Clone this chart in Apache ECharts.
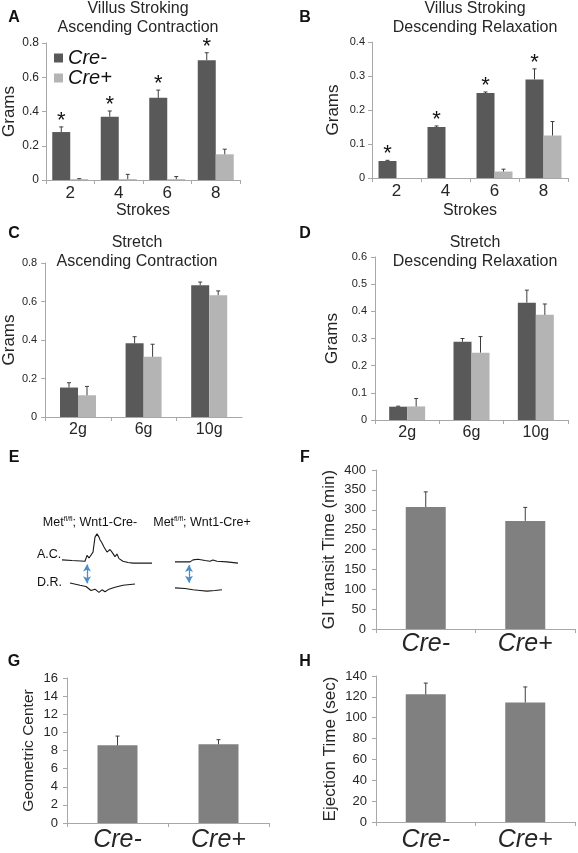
<!DOCTYPE html>
<html><head><meta charset="utf-8">
<style>html,body{margin:0;padding:0;background:#fff}#c{width:578px;height:853px}</style>
<script src="https://cdn.jsdelivr.net/npm/echarts@6.0.0/dist/echarts.min.js"></script>
</head><body><div id="c"></div>
<script>
// ---------- DATA ----------
const strokes = ['2', '4', '6', '8'];
const aMinus = [0.28, 0.37, 0.48, 0.70];
const aMinusErr = [0.03, 0.033, 0.045, 0.043];
const aPlus = [0.005, 0.005, 0.005, 0.15];
const aPlusErr = [0.003, 0.028, 0.015, 0.03];
const aStars = [1, 1, 1, 1];

const bMinus = [0.05, 0.15, 0.25, 0.29];
const bMinusErr = [0.002, 0.003, 0.003, 0.031];
const bPlus = [0, 0, 0.019, 0.125];
const bPlusErr = [0, 0, 0.007, 0.041];
const bStars = [1, 1, 1, 1];

const weights = ['2g', '6g', '10g'];
const cMinus = [0.153, 0.383, 0.685];
const cMinusErr = [0.025, 0.034, 0.016];
const cPlus = [0.113, 0.313, 0.633];
const cPlusErr = [0.046, 0.065, 0.022];

const dMinus = [0.049, 0.288, 0.432];
const dMinusErr = [0.002, 0.012, 0.046];
const dPlus = [0.05, 0.248, 0.387];
const dPlusErr = [0.029, 0.059, 0.04];

const genotypes = ['Cre-', 'Cre+'];
const fTransit = [307, 272];
const fTransitErr = [38, 34];
const gCenter = [8.57, 8.68];
const gCenterErr = [1.02, 0.51];
const hEject = [122.4, 114.7];
const hEjectErr = [10.8, 14.8];

// E: representative traces (time units, amplitude units)
const acMinusTrace = [[0,0.4],[10,0.3],[23,0.2],[25,1.1],[27,0.7],[29,1.0],[31,1.6],[33,3.9],[35,4.4],[37,3.9],[38,3.5],[40,3.0],[42,2.4],[44,2.1],[45,1.6],[47,1.9],[48,2.0],[50,1.6],[51,1.5],[52,1.9],[53,0.9],[55,1.3],[56,1.0],[57,0.6],[61,0.2],[66,0.0],[71,-0.1],[80,-0.1],[90,-0.1]];
const drMinusTrace = [[8,-3.15],[18,-3.5],[24,-3.7],[26,-3.9],[29,-4.3],[31,-4.5],[33,-4.1],[35,-4.2],[37,-4.6],[38,-4.7],[40,-4.2],[41,-4.1],[43,-4.5],[45,-4.5],[47,-4.1],[48,-3.9],[53,-3.8],[61,-3.5],[73,-3.3]];
const acPlusTrace = [[0,0.1],[15,0.1],[18,0.4],[20,0.7],[23,0.5],[25,0.4],[30,0.3],[35,0.2],[38,0.4],[42,0.2],[52,0.1],[63,-0.1]];
const drPlusTrace = [[0,-3.9],[10,-4.0],[18,-4.2],[25,-4.3],[32,-4.4],[40,-4.3],[47,-4.2]];
const arrowMinus = [25, -0.3, -3.2];
const arrowPlus = [14, -0.4, -3.1];

// ---------- STYLE ----------
const SANS = '"Liberation Sans", Arial, sans-serif';
const NARROW = '"Liberation Sans Narrow", "Liberation Sans", Arial, sans-serif';
const AXIS = '#a8a8a8';
const DARK = '#595959', LIGHT = '#b4b4b4', MID = '#808080', ERR = '#3c3c3c';
const TXT = '#262626';

const grids = [], xAxes = [], yAxes = [], series = [];

function makeErr(offset, withStars) {
  return function (params, api) {
    const i = api.value(0), v = api.value(1), top = api.value(2), star = api.value(3);
    const p0 = api.coord([i, v]);
    const p1 = api.coord([i, top]);
    const x = p0[0] + offset;
    const children = [];
    if (top > v) {
      children.push({type: 'line', shape: {x1: x, y1: p0[1], x2: x, y2: p1[1]}, style: {stroke: ERR, lineWidth: 1}});
      children.push({type: 'line', shape: {x1: x - 2, y1: p1[1], x2: x + 2, y2: p1[1]}, style: {stroke: ERR, lineWidth: 1}});
    }
    if (withStars && star) {
      children.push({type: 'text', x: x, y: p1[1] - 17, style: {text: '*', fontSize: 22, fontFamily: SANS, fill: '#111', align: 'center', verticalAlign: 'top'}});
    }
    return {type: 'group', children: children};
  };
}

function panel(cfg) {
  const gi = grids.length;
  grids.push({left: cfg.left, top: cfg.top, width: cfg.width, height: cfg.height});
  xAxes.push({
    type: 'category', gridIndex: gi, data: cfg.cats,
    axisLine: {lineStyle: {color: AXIS}},
    axisTick: {show: true, length: 4, lineStyle: {color: AXIS}},
    axisLabel: {color: TXT, fontSize: cfg.xFont, fontFamily: cfg.xFamily || SANS, fontStyle: cfg.xItalic ? 'italic' : 'normal', margin: cfg.xMargin},
    name: cfg.xName || '', nameLocation: 'middle', nameGap: cfg.xNameGap || 20,
    nameTextStyle: {color: TXT, fontSize: 16, fontFamily: SANS}
  });
  yAxes.push({
    type: 'value', gridIndex: gi, min: 0, max: cfg.max, interval: cfg.interval,
    splitLine: {show: false},
    axisLine: {show: true, lineStyle: {color: AXIS}},
    axisTick: {show: true, length: 4, lineStyle: {color: AXIS}},
    axisLabel: {color: TXT, fontSize: cfg.yFont, fontFamily: cfg.yFamily || SANS, margin: cfg.yMargin},
    name: cfg.yName, nameLocation: 'middle', nameRotate: 90, nameGap: cfg.yNameGap,
    nameTextStyle: {color: TXT, fontSize: cfg.yNameFont, fontFamily: cfg.yNameFamily || SANS}
  });
  const n = cfg.groups.length;
  cfg.groups.forEach(function (g) {
    series.push({type: 'bar', name: g.name, xAxisIndex: gi, yAxisIndex: gi, data: g.values,
      barWidth: cfg.barWidth, barGap: '0%', itemStyle: {color: g.color}, silent: true, animation: false});
  });
  cfg.groups.forEach(function (g, k) {
    const offset = (k - (n - 1) / 2) * cfg.barWidth;
    series.push({type: 'custom', xAxisIndex: gi, yAxisIndex: gi, silent: true, z: 5, animation: false,
      renderItem: makeErr(offset, !!g.stars),
      encode: {x: 0, y: [1, 2]},
      data: g.values.map(function (v, i) { return [i, v, v + g.errs[i], g.stars ? g.stars[i] : 0]; })});
  });
}

// A
panel({left: 44, top: 43, width: 196, height: 137, cats: strokes, max: 0.8, interval: 0.2,
  xFont: 17, xMargin: 5, xName: 'Strokes', xNameGap: 23, yFont: 12, yMargin: 7,
  yName: 'Grams', yNameGap: 28, yNameFont: 17, barWidth: 18,
  groups: [{name: 'Cre-', values: aMinus, errs: aMinusErr, color: DARK, stars: aStars},
           {name: 'Cre+', values: aPlus, errs: aPlusErr, color: LIGHT}]});
// B
panel({left: 372, top: 42, width: 196, height: 136, cats: strokes, max: 0.4, interval: 0.1,
  xFont: 17, xMargin: 5, xName: 'Strokes', xNameGap: 25, yFont: 11, yMargin: 7,
  yName: 'Grams', yNameGap: 30, yNameFont: 17, barWidth: 18,
  groups: [{name: 'Cre-', values: bMinus, errs: bMinusErr, color: DARK, stars: bStars},
           {name: 'Cre+', values: bPlus, errs: bPlusErr, color: LIGHT}]});
// C
panel({left: 44, top: 263, width: 198, height: 154, cats: weights, max: 0.8, interval: 0.2,
  xFont: 16, xMargin: 5, yFont: 11, yFamily: NARROW, yMargin: 8,
  yName: 'Grams', yNameGap: 27, yNameFont: 17, barWidth: 18,
  groups: [{name: 'Cre-', values: cMinus, errs: cMinusErr, color: DARK},
           {name: 'Cre+', values: cPlus, errs: cPlusErr, color: LIGHT}]});
// D
panel({left: 375, top: 257, width: 193, height: 163, cats: weights, max: 0.6, interval: 0.1,
  xFont: 16, xMargin: 5, yFont: 11, yFamily: NARROW, yMargin: 8,
  yName: 'Grams', yNameGap: 34, yNameFont: 17, barWidth: 18,
  groups: [{name: 'Cre-', values: dMinus, errs: dMinusErr, color: DARK},
           {name: 'Cre+', values: dPlus, errs: dPlusErr, color: LIGHT}]});
// F
panel({left: 376, top: 470, width: 199, height: 159, cats: genotypes, max: 400, interval: 50,
  xFont: 25, xItalic: true, xFamily: NARROW, xMargin: 3, yFont: 13, yMargin: 10,
  yName: 'GI Transit Time (min)', yNameGap: 38, yNameFont: 17, barWidth: 40,
  groups: [{name: 'Transit', values: fTransit, errs: fTransitErr, color: MID}]});
// G
panel({left: 67, top: 678, width: 202, height: 148, cats: genotypes, max: 16, interval: 2,
  xFont: 25, xItalic: true, xFamily: NARROW, xMargin: 5, yFont: 13, yMargin: 9,
  yName: 'Geometric Center', yNameGap: 30, yNameFont: 15.5, barWidth: 40,
  groups: [{name: 'Center', values: gCenter, errs: gCenterErr, color: MID}]});
// H
panel({left: 376, top: 676, width: 199, height: 151, cats: genotypes, max: 140, interval: 20,
  xFont: 25, xItalic: true, xFamily: NARROW, xMargin: 6, yFont: 13, yMargin: 9,
  yName: 'Ejection Time (sec)', yNameGap: 37, yNameFont: 17, barWidth: 40,
  groups: [{name: 'Ejection', values: hEject, errs: hEjectErr, color: MID}]});

// E traces
function traceGrid(left, width, xmax, ac, dr, arrow) {
  const gi = grids.length;
  grids.push({left: left, top: 530, width: width, height: 65});
  xAxes.push({type: 'value', gridIndex: gi, min: 0, max: xmax, show: false});
  yAxes.push({type: 'value', gridIndex: gi, min: -5, max: 5, show: false});
  const ls = {color: '#1a1a1a', width: 1.1};
  series.push({type: 'line', name: 'AC' + gi, xAxisIndex: gi, yAxisIndex: gi, data: ac, showSymbol: false, lineStyle: ls, silent: true, animation: false,
    markLine: {silent: true, symbol: ['arrow', 'arrow'], symbolSize: [6, 7], animation: false,
      lineStyle: {color: '#4a8fc9', type: 'solid', width: 1.3}, label: {show: false},
      data: [[{coord: [arrow[0], arrow[1]]}, {coord: [arrow[0], arrow[2]]}]]}});
  series.push({type: 'line', name: 'DR' + gi, xAxisIndex: gi, yAxisIndex: gi, data: dr, showSymbol: false, lineStyle: ls, silent: true, animation: false});
}
traceGrid(62, 90, 90, acMinusTrace, drMinusTrace, arrowMinus);
traceGrid(175, 63, 63, acPlusTrace, drPlusTrace, arrowPlus);

// ---------- TEXT ----------
const graphics = [];
function letter(t, x, y) {
  graphics.push({type: 'text', x: x, y: y, style: {text: t, fontSize: 16, fontWeight: 'bold', fontFamily: SANS, fill: '#111', align: 'center', verticalAlign: 'middle'}});
}
letter('A', 14, 18); letter('B', 305, 18); letter('C', 14, 234); letter('D', 305, 234);
letter('E', 14, 458); letter('F', 305, 458); letter('G', 14, 662); letter('H', 305, 662);
function title(lines, x, y) {
  graphics.push({type: 'text', x: x, y: y, style: {text: lines.join('\n'), fontSize: 16, lineHeight: 19, fontFamily: SANS, fill: TXT, align: 'center', verticalAlign: 'top'}});
}
title(['Villus Stroking', 'Ascending Contraction'], 138, -1);
title(['Villus Stroking', 'Descending Relaxation'], 475, -1);
title(['Stretch', 'Ascending Contraction'], 137, 233);
title(['Stretch', 'Descending Relaxation'], 475, 233);
function geno(x, suffix) {
  graphics.push({type: 'text', x: x, y: 523, style: {
    text: '{a|Met}{s|fl/fl}{a|; Wnt1-' + suffix + '}', align: 'center', verticalAlign: 'middle',
    rich: {a: {fontSize: 12.5, fontFamily: NARROW, fill: '#111'}, s: {fontSize: 7, fontFamily: NARROW, fill: '#111', padding: [0, 0, 7, 0]}}}});
}
geno(90, 'Cre-'); geno(202, 'Cre+');
graphics.push({type: 'text', x: 37, y: 555, style: {text: 'A.C.', fontSize: 12.5, fontFamily: NARROW, fill: '#111', verticalAlign: 'middle'}});
graphics.push({type: 'text', x: 37, y: 583, style: {text: 'D.R.', fontSize: 12.5, fontFamily: NARROW, fill: '#111', verticalAlign: 'middle'}});

const chart = echarts.init(document.getElementById('c'), null, {renderer: 'canvas'});
chart.setOption({
  backgroundColor: '#ffffff',
  animation: false,
  textStyle: {fontFamily: SANS},
  legend: {data: ['Cre-', 'Cre+'], orient: 'vertical', left: 49, top: 43, itemWidth: 9, itemHeight: 9, itemGap: 0,
    icon: 'rect', selectedMode: false,
    textStyle: {fontSize: 20, fontStyle: 'italic', color: '#111', fontFamily: SANS, lineHeight: 19}},
  grid: grids, xAxis: xAxes, yAxis: yAxes, series: series, graphic: graphics
});
</script></body></html>
